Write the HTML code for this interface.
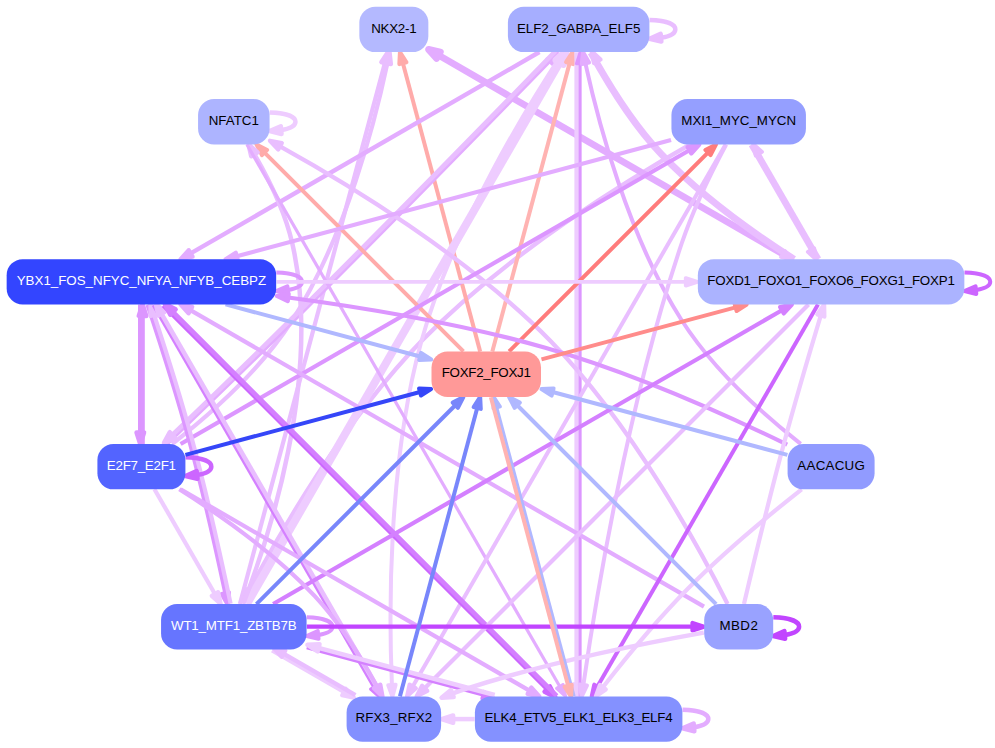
<!DOCTYPE html>
<html><head><meta charset="utf-8"><title>network</title>
<style>
html,body{margin:0;padding:0;background:#fff;}
svg{display:block;}
svg text{font-family:"Liberation Sans",sans-serif;font-size:13.33px;text-anchor:middle;}
svg polygon{stroke-linejoin:round;}
</style></head><body>
<svg width="995" height="748" viewBox="0 0 995 748">
<rect width="995" height="748" fill="#fff"/>
<g id="edges">
<path d="M695.49,141.42 C631.44,177.56 507.27,253.22 421.75,340.74 C344.21,420.11 278.54,535.18 249.02,590.95" fill="none" stroke="#e9beff" stroke-width="4.4"/>
<polygon points="245.74,589.23 243.68,601.13 252.3,592.67" fill="#e9beff" stroke="#e9beff" stroke-width="4.4"/>
<path d="M239.89,603.97 L384.8,63.2" fill="none" stroke="#e9beff" stroke-width="4.2"/>
<polygon points="388.37,64.16 387.77,52.09 381.22,62.24" fill="#e9beff" stroke="#e9beff" stroke-width="4.2"/>
<path d="M172.16,444.02 C205.93,417.71 259.7,371.32 292.31,320.25 C346.02,236.13 375.38,120.12 387.35,63.4" fill="none" stroke="#e9beff" stroke-width="4.2"/>
<polygon points="390.97,64.14 389.66,52.13 383.73,62.66" fill="#e9beff" stroke="#e9beff" stroke-width="4.2"/>
<path d="M480.18,351.62 L402.91,63.23" fill="none" stroke="#ffabaa" stroke-width="4"/>
<polygon points="406.48,62.28 399.93,52.12 399.33,64.19" fill="#ffabaa" stroke="#ffabaa" stroke-width="4"/>
<path d="M791.89,259.22 L438.46,55.17" fill="none" stroke="#e3acff" stroke-width="6.8"/>
<polygon points="440.31,51.97 428.5,49.42 436.61,58.38" fill="#e3acff" stroke="#e3acff" stroke-width="6.8"/>
<path d="M649.53,20.1 C664.12,20.51 675.32,23.62 675.32,29.41 675.32,33.49 669.77,36.24 661.42,37.65" fill="none" stroke="#e9beff" stroke-width="4.5"/>
<polygon points="661.36,41.56 649.53,38.73 660.62,33.82" fill="#e9beff" stroke="#e9beff" stroke-width="4.5"/>
<path d="M539.46,52.03 L190.63,253.43" fill="none" stroke="#e3acff" stroke-width="4.4"/>
<polygon points="188.78,250.23 180.67,259.18 192.48,256.64" fill="#e3acff" stroke="#e3acff" stroke-width="4.4"/>
<path d="M166.16,445.05 C196.01,416.42 248.81,365.54 293.37,321.31 C387.76,227.62 497.66,114.96 549.59,61.52" fill="none" stroke="#e3acff" stroke-width="3.2"/>
<polygon points="552.24,64.1 557.6,53.27 546.94,58.95" fill="#e3acff" stroke="#e3acff" stroke-width="3.2"/>
<path d="M555.48,51.15 C507.65,100.42 390.82,220.35 291.25,319.19 C250.57,359.57 203.02,405.5 172.34,434.97" fill="none" stroke="#e9beff" stroke-width="4.6"/>
<polygon points="169.77,432.3 164.04,442.93 174.9,437.64" fill="#e9beff" stroke="#e9beff" stroke-width="4.6"/>
<path d="M246.92,603.97 L559.8,62.05" fill="none" stroke="#eeccff" stroke-width="8"/>
<polygon points="563.01,63.9 565.55,52.09 556.6,60.2" fill="#eeccff" stroke="#eeccff" stroke-width="8"/>
<path d="M492.33,351.54 L569.61,63.14" fill="none" stroke="#ffb3b2" stroke-width="4"/>
<polygon points="573.18,64.1 572.58,52.03 566.03,62.19" fill="#ffb3b2" stroke="#ffb3b2" stroke-width="4"/>
<path d="M577.14,52.14 L577.14,685.03" fill="none" stroke="#eeccff" stroke-width="5.5"/>
<polygon points="573.44,685.03 577.14,696.53 580.84,685.03" fill="#eeccff" stroke="#eeccff" stroke-width="5.5"/>
<path d="M580.14,696.53 L580.14,63.64" fill="none" stroke="#dc96ff" stroke-width="3"/>
<polygon points="583.84,63.64 580.14,52.14 576.44,63.64" fill="#dc96ff" stroke="#dc96ff" stroke-width="3"/>
<path d="M800.69,443.92 C767.3,417.53 714.11,371.06 681.68,320.25 C627.91,235.98 597.78,120.03 585.4,63.36" fill="none" stroke="#e3acff" stroke-width="4"/>
<polygon points="589.02,62.59 583,52.11 581.78,64.13" fill="#e3acff" stroke="#e3acff" stroke-width="4"/>
<path d="M794.78,258.13 C758.26,234.81 702.46,195.95 662.25,153.26 C635.86,125.23 612.37,87.81 597.27,61.26" fill="none" stroke="#e9beff" stroke-width="4.3"/>
<polygon points="600.5,59.46 591.66,51.22 594.04,63.07" fill="#e9beff" stroke="#e9beff" stroke-width="4.3"/>
<path d="M589.52,53.33 C603.99,79.72 630.18,123.58 660.11,155.37 C696.92,194.45 746.79,230.32 782.98,253.99" fill="none" stroke="#e9beff" stroke-width="3.6"/>
<polygon points="780.97,257.1 792.64,260.24 784.99,250.89" fill="#e9beff" stroke="#e9beff" stroke-width="3.6"/>
<path d="M563.25,52.02 C530.3,101.77 453.35,225.57 421.25,341.74 C387.31,464.53 389.07,617.85 391.92,684.96" fill="none" stroke="#eeccff" stroke-width="4"/>
<polygon points="388.22,685.13 392.45,696.45 395.61,684.79" fill="#eeccff" stroke="#eeccff" stroke-width="4"/>
<path d="M269.69,112.49 C284.28,112.91 295.48,116.02 295.48,121.81 295.48,125.89 289.94,128.64 281.59,130.05" fill="none" stroke="#eeccff" stroke-width="4.5"/>
<polygon points="281.53,133.96 269.69,131.13 280.78,126.22" fill="#eeccff" stroke="#eeccff" stroke-width="4.5"/>
<path d="M463.4,351.4 L264.55,152.56" fill="none" stroke="#ffabaa" stroke-width="4"/>
<polygon points="267.17,149.94 256.42,144.42 261.94,155.17" fill="#ffabaa" stroke="#ffabaa" stroke-width="4"/>
<path d="M727.57,603.91 C701.84,552.73 633.97,426.48 551.25,341.74 C467.46,255.92 345.76,182.64 280.04,146.29" fill="none" stroke="#e9beff" stroke-width="4.3"/>
<polygon points="281.82,143.04 269.96,140.75 278.26,149.53" fill="#e9beff" stroke="#e9beff" stroke-width="4.3"/>
<path d="M243.16,604 C266.47,544.4 323.13,378.63 292.31,243.45 C285.01,211.43 268.17,178 254.42,154.31" fill="none" stroke="#e9beff" stroke-width="4.5"/>
<polygon points="257.6,152.42 248.53,144.43 251.24,156.21" fill="#e9beff" stroke="#e9beff" stroke-width="4.5"/>
<path d="M246.92,144.51 L559.8,686.44" fill="none" stroke="#e3acff" stroke-width="3.2"/>
<polygon points="556.6,688.29 565.55,696.4 563.01,684.59" fill="#e3acff" stroke="#e3acff" stroke-width="3.2"/>
<path d="M671.04,139.93 L236.77,256.3" fill="none" stroke="#e3acff" stroke-width="4.2"/>
<polygon points="235.81,252.72 225.66,259.27 237.73,259.87" fill="#e3acff" stroke="#e3acff" stroke-width="4.2"/>
<path d="M180.6,444.02 L689.39,150.27" fill="none" stroke="#dc96ff" stroke-width="4.2"/>
<polygon points="691.24,153.48 699.35,144.52 687.54,147.07" fill="#dc96ff" stroke="#dc96ff" stroke-width="4.2"/>
<path d="M509.09,351.4 L707.94,152.56" fill="none" stroke="#ff7c7c" stroke-width="4"/>
<polygon points="710.56,155.17 716.07,144.42 705.32,149.94" fill="#ff7c7c" stroke="#ff7c7c" stroke-width="4"/>
<path d="M725.59,144.49 L412.71,686.42" fill="none" stroke="#e9beff" stroke-width="4"/>
<polygon points="409.51,684.57 406.96,696.38 415.92,688.27" fill="#e9beff" stroke="#e9beff" stroke-width="4"/>
<path d="M726.16,144.49 C713.39,168.45 693.77,207.65 681.68,243.45 C627.33,404.34 594.81,605.78 583.35,684.93" fill="none" stroke="#e9beff" stroke-width="4"/>
<polygon points="579.68,684.4 581.72,696.31 587.01,685.45" fill="#e9beff" stroke="#e9beff" stroke-width="4"/>
<path d="M750.51,145.29 L810.99,250.06" fill="none" stroke="#e9beff" stroke-width="3.8"/>
<polygon points="807.79,251.9 816.74,260.01 814.2,248.21" fill="#e9beff" stroke="#e9beff" stroke-width="3.8"/>
<path d="M819.34,258.51 L758.86,153.75" fill="none" stroke="#e9beff" stroke-width="3.8"/>
<polygon points="762.06,151.9 753.11,143.79 755.66,155.6" fill="#e9beff" stroke="#e9beff" stroke-width="3.8"/>
<path d="M276.29,272.53 C290.88,272.95 302.08,276.06 302.08,281.85 302.08,285.93 296.54,288.67 288.19,290.09" fill="none" stroke="#dc96ff" stroke-width="4"/>
<polygon points="288.13,294 276.29,291.17 287.38,286.26" fill="#dc96ff" stroke="#dc96ff" stroke-width="4"/>
<path d="M276.6,281.85 L685.79,281.85" fill="none" stroke="#eeccff" stroke-width="3.9"/>
<polygon points="685.79,285.55 697.29,281.85 685.79,278.15" fill="#eeccff" stroke="#eeccff" stroke-width="3.9"/>
<path d="M787.18,444.6 C732.04,417.8 633.88,373.04 545.25,347.74 C461.63,323.89 365.64,307.78 288.22,297.46" fill="none" stroke="#dc96ff" stroke-width="4.2"/>
<polygon points="288.71,293.79 276.82,295.96 287.74,301.13" fill="#dc96ff" stroke="#dc96ff" stroke-width="4.2"/>
<path d="M140.31,304.4 L140.31,432.48" fill="none" stroke="#dc96ff" stroke-width="4.6"/>
<polygon points="136.61,432.48 140.31,443.98 144.01,432.48" fill="#dc96ff" stroke="#dc96ff" stroke-width="4.6"/>
<path d="M142.51,443.98 L142.51,315.9" fill="none" stroke="#dc96ff" stroke-width="4.6"/>
<polygon points="146.21,315.9 142.51,304.4 138.81,315.9" fill="#dc96ff" stroke="#dc96ff" stroke-width="4.6"/>
<path d="M147.55,304.74 C157.67,335.14 175.83,391.08 188.96,439.53 C203.41,492.83 217.29,555.46 225.31,593.17" fill="none" stroke="#dc96ff" stroke-width="4.2"/>
<polygon points="221.69,593.94 227.69,604.42 228.93,592.41" fill="#dc96ff" stroke="#dc96ff" stroke-width="4.2"/>
<path d="M230.59,603.65 C223.16,568.26 207.86,497.79 191.86,438.76 C180.18,395.64 164.51,346.59 154.07,314.88" fill="none" stroke="#e9beff" stroke-width="4.2"/>
<polygon points="157.58,313.72 150.45,303.97 150.55,316.05" fill="#e9beff" stroke="#e9beff" stroke-width="4.2"/>
<path d="M153.22,305.31 L373.76,687.29" fill="none" stroke="#d480ff" stroke-width="3"/>
<polygon points="370.56,689.14 379.51,697.25 376.97,685.44" fill="#d480ff" stroke="#d480ff" stroke-width="3"/>
<path d="M382.11,695.75 L161.57,313.77" fill="none" stroke="#e9beff" stroke-width="4.5"/>
<polygon points="164.78,311.92 155.82,303.81 158.37,315.62" fill="#e9beff" stroke="#e9beff" stroke-width="4.5"/>
<path d="M163.41,305.27 L547.22,689.07" fill="none" stroke="#cc66ff" stroke-width="4.6"/>
<polygon points="544.61,691.69 555.35,697.2 549.84,686.46" fill="#cc66ff" stroke="#cc66ff" stroke-width="4.6"/>
<path d="M556.77,695.79 L172.96,311.99" fill="none" stroke="#d480ff" stroke-width="4.6"/>
<polygon points="175.58,309.37 164.83,303.86 170.34,314.61" fill="#d480ff" stroke="#d480ff" stroke-width="4.6"/>
<path d="M703.99,606.65 L190.38,310.12" fill="none" stroke="#e3acff" stroke-width="4.2"/>
<polygon points="192.23,306.92 180.42,304.37 188.53,313.33" fill="#e3acff" stroke="#e3acff" stroke-width="4.2"/>
<path d="M225.53,304.39 L420.11,356.53" fill="none" stroke="#b0b8ff" stroke-width="4"/>
<polygon points="419.16,360.1 431.22,359.5 421.07,352.95" fill="#b0b8ff" stroke="#b0b8ff" stroke-width="4"/>
<path d="M964.47,272.53 C979.05,272.95 990.26,276.06 990.26,281.85 990.26,285.93 984.71,288.67 976.36,290.09" fill="none" stroke="#cc66ff" stroke-width="4"/>
<polygon points="976.3,294 964.47,291.17 975.55,286.26" fill="#cc66ff" stroke="#cc66ff" stroke-width="4"/>
<path d="M541.49,359.44 L735.61,307.43" fill="none" stroke="#ff8c8b" stroke-width="4"/>
<polygon points="736.57,311 746.72,304.45 734.66,303.86" fill="#ff8c8b" stroke="#ff8c8b" stroke-width="4"/>
<path d="M273.14,603.97 L781.93,310.22" fill="none" stroke="#d480ff" stroke-width="4.2"/>
<polygon points="783.78,313.43 791.89,304.47 780.08,307.02" fill="#d480ff" stroke="#d480ff" stroke-width="4.2"/>
<path d="M808.49,304.43 L424.69,688.24" fill="none" stroke="#e9beff" stroke-width="4.2"/>
<polygon points="422.08,685.62 416.56,696.37 427.31,690.85" fill="#e9beff" stroke="#e9beff" stroke-width="4.2"/>
<path d="M817.97,304.56 L597.43,686.54" fill="none" stroke="#cc66ff" stroke-width="4"/>
<polygon points="594.23,684.69 591.68,696.5 600.64,688.39" fill="#cc66ff" stroke="#cc66ff" stroke-width="4"/>
<path d="M743.96,604.04 C752.21,569.01 768.82,499.61 784.58,441.14 C796.34,397.54 811.13,347.62 820.83,315.46" fill="none" stroke="#eeccff" stroke-width="4.2"/>
<polygon points="824.37,316.53 824.16,304.45 817.29,314.39" fill="#eeccff" stroke="#eeccff" stroke-width="4.2"/>
<path d="M185.54,457.33 C200.13,457.75 211.33,460.85 211.33,466.65 211.33,470.73 205.79,473.47 197.44,474.89" fill="none" stroke="#cc66ff" stroke-width="4.5"/>
<polygon points="197.38,478.8 185.54,475.97 196.63,471.06" fill="#cc66ff" stroke="#cc66ff" stroke-width="4.5"/>
<path d="M185.43,454.85 L420,392" fill="none" stroke="#3546f8" stroke-width="4"/>
<polygon points="420.96,395.57 431.11,389.02 419.05,388.43" fill="#3546f8" stroke="#3546f8" stroke-width="4"/>
<path d="M154.45,489.23 L214.93,594" fill="none" stroke="#eeccff" stroke-width="4.2"/>
<polygon points="211.73,595.84 220.68,603.95 218.14,592.15" fill="#eeccff" stroke="#eeccff" stroke-width="4.2"/>
<path d="M180.6,489.27 L529.43,690.67" fill="none" stroke="#e3acff" stroke-width="4.2"/>
<polygon points="527.58,693.87 539.39,696.42 531.28,687.47" fill="#e3acff" stroke="#e3acff" stroke-width="4.2"/>
<path d="M179.33,489.3 C216.69,512.85 273.94,552.34 314.81,596.18 C340.36,623.59 362.74,660.29 377.1,686.43" fill="none" stroke="#e3acff" stroke-width="4.2"/>
<polygon points="373.84,688.18 382.55,696.55 380.36,684.67" fill="#e3acff" stroke="#e3acff" stroke-width="4.2"/>
<path d="M787.41,454.94 L552.62,392.03" fill="none" stroke="#b0b8ff" stroke-width="4"/>
<polygon points="553.58,388.46 541.51,389.05 551.66,395.6" fill="#b0b8ff" stroke="#b0b8ff" stroke-width="4"/>
<path d="M801.66,489.3 C771.88,512.78 725.1,551.18 688.28,588.28 C656.73,620.09 624.2,659.96 602.86,687.26" fill="none" stroke="#eeccff" stroke-width="4.2"/>
<polygon points="599.94,685 595.81,696.35 605.78,689.53" fill="#eeccff" stroke="#eeccff" stroke-width="4.2"/>
<path d="M306.69,617.37 C321.28,617.78 332.48,620.89 332.48,626.69 332.48,630.76 326.94,633.51 318.59,634.92" fill="none" stroke="#dc96ff" stroke-width="4"/>
<polygon points="318.53,638.83 306.69,636.01 317.78,631.1" fill="#dc96ff" stroke="#dc96ff" stroke-width="4"/>
<path d="M306.81,626.68 L692.48,626.68" fill="none" stroke="#c145ff" stroke-width="4.2"/>
<polygon points="692.48,630.38 703.98,626.68 692.48,622.98" fill="#c145ff" stroke="#c145ff" stroke-width="4.2"/>
<path d="M256.42,604.07 L455.27,405.23" fill="none" stroke="#7886fb" stroke-width="4"/>
<polygon points="457.89,407.84 463.4,397.09 452.65,402.61" fill="#7886fb" stroke="#7886fb" stroke-width="4"/>
<path d="M272.08,650.51 L343.99,692.03" fill="none" stroke="#eeccff" stroke-width="4.2"/>
<polygon points="342.14,695.24 353.95,697.78 345.84,688.83" fill="#eeccff" stroke="#eeccff" stroke-width="4.2"/>
<path d="M355.45,695.18 L283.54,653.67" fill="none" stroke="#e9beff" stroke-width="4.2"/>
<polygon points="285.39,650.46 273.58,647.92 281.69,656.87" fill="#e9beff" stroke="#e9beff" stroke-width="4.2"/>
<path d="M306.68,647.76 L482.8,694.95" fill="none" stroke="#d480ff" stroke-width="3"/>
<polygon points="481.84,698.53 493.9,697.93 483.75,691.38" fill="#d480ff" stroke="#d480ff" stroke-width="3"/>
<path d="M494.68,695.03 L318.57,647.84" fill="none" stroke="#eeccff" stroke-width="4.5"/>
<polygon points="319.53,644.27 307.46,644.87 317.61,651.42" fill="#eeccff" stroke="#eeccff" stroke-width="4.5"/>
<path d="M773.32,617.37 C787.9,617.78 799.11,620.89 799.11,626.69 799.11,630.76 793.56,633.51 785.21,634.92" fill="none" stroke="#c145ff" stroke-width="4.5"/>
<polygon points="785.15,638.83 773.32,636.01 784.4,631.1" fill="#c145ff" stroke="#c145ff" stroke-width="4.5"/>
<path d="M716.07,604.07 L517.22,405.23" fill="none" stroke="#b0b8ff" stroke-width="4"/>
<polygon points="519.84,402.61 509.09,397.09 514.61,407.84" fill="#b0b8ff" stroke="#b0b8ff" stroke-width="4"/>
<path d="M703.81,632.62 C651.55,641.96 550.13,661.82 466.64,688.58 C461.94,690.09 457.11,691.78 452.3,693.57" fill="none" stroke="#eeccff" stroke-width="4.5"/>
<polygon points="450.97,690.12 441.57,697.71 453.63,697.02" fill="#eeccff" stroke="#eeccff" stroke-width="4.5"/>
<path d="M399.93,696.38 L477.21,407.98" fill="none" stroke="#7886fb" stroke-width="4"/>
<polygon points="480.78,408.94 480.18,396.87 473.63,407.03" fill="#7886fb" stroke="#7886fb" stroke-width="4"/>
<path d="M474.63,719.08 L453.12,719.08" fill="none" stroke="#eeccff" stroke-width="4.5"/>
<polygon points="453.12,715.38 441.62,719.08 453.12,722.78" fill="#eeccff" stroke="#eeccff" stroke-width="4.5"/>
<path d="M682.53,709.77 C697.12,710.18 708.32,713.29 708.32,719.09 708.32,723.16 702.77,725.91 694.42,727.32" fill="none" stroke="#e3acff" stroke-width="4.5"/>
<polygon points="694.36,731.23 682.53,728.4 693.62,723.5" fill="#e3acff" stroke="#e3acff" stroke-width="4.5"/>
<path d="M574.03,696.07 L496.76,407.67" fill="none" stroke="#b0b8ff" stroke-width="3.2"/>
<polygon points="500.33,406.72 493.78,396.57 493.18,408.63" fill="#b0b8ff" stroke="#b0b8ff" stroke-width="3.2"/>
<path d="M490.88,397.34 L568.16,685.74" fill="none" stroke="#ffb3b2" stroke-width="4"/>
<polygon points="564.58,686.7 571.13,696.85 571.73,684.78" fill="#ffb3b2" stroke="#ffb3b2" stroke-width="4"/>
</g>
<g id="nodes">
<rect x="359.35" y="6.71" width="69" height="45.4" rx="16" ry="16" fill="#b4b9ff"/>
<text x="393.73" y="32.61" fill="#000" letter-spacing="-0.25">NKX2-1</text>
<rect x="507.9" y="6.71" width="141.5" height="45.4" rx="16" ry="16" fill="#a6aeff"/>
<text x="578.65" y="32.61" fill="#000">ELF2_GABPA_ELF5</text>
<rect x="198.06" y="99.11" width="71.5" height="45.4" rx="16" ry="16" fill="#adb4ff"/>
<text x="233.81" y="125.01" fill="#000">NFATC1</text>
<rect x="671.44" y="99.11" width="134.5" height="45.4" rx="16" ry="16" fill="#959fff"/>
<text x="738.69" y="125.01" fill="#000">MXI1_MYC_MYCN</text>
<rect x="6.66" y="259.15" width="269.5" height="45.4" rx="16" ry="16" fill="#3345ff"/>
<text x="141.41" y="285.05" fill="#fff">YBX1_FOS_NFYC_NFYA_NFYB_CEBPZ</text>
<rect x="697.84" y="259.15" width="266.5" height="45.4" rx="16" ry="16" fill="#abb3ff"/>
<text x="830.98" y="285.05" fill="#000" letter-spacing="-0.21">FOXD1_FOXO1_FOXO6_FOXG1_FOXP1</text>
<rect x="431.5" y="351.55" width="109.5" height="45.4" rx="16" ry="16" fill="#ff9998"/>
<text x="486.12" y="377.45" fill="#000" letter-spacing="-0.27">FOXF2_FOXJ1</text>
<rect x="97.41" y="443.95" width="88" height="45.4" rx="16" ry="16" fill="#5364ff"/>
<text x="141.29" y="469.85" fill="#fff" letter-spacing="-0.25">E2F7_E2F1</text>
<rect x="787.59" y="443.95" width="87" height="45.4" rx="16" ry="16" fill="#919bff"/>
<text x="831.21" y="469.85" fill="#000" letter-spacing="0.25">AACACUG</text>
<rect x="161.06" y="603.99" width="145.5" height="45.4" rx="16" ry="16" fill="#6675ff"/>
<text x="233.72" y="629.89" fill="#fff" letter-spacing="-0.18">WT1_MTF1_ZBTB7B</text>
<rect x="704.19" y="603.99" width="69" height="45.4" rx="16" ry="16" fill="#99a2ff"/>
<text x="738.89" y="629.89" fill="#000" letter-spacing="0.4">MBD2</text>
<rect x="346.6" y="696.39" width="94.5" height="45.4" rx="16" ry="16" fill="#8390ff"/>
<text x="393.93" y="722.29" fill="#000" letter-spacing="0.15">RFX3_RFX2</text>
<rect x="474.9" y="696.39" width="207.5" height="45.4" rx="16" ry="16" fill="#8491ff"/>
<text x="578.55" y="722.29" fill="#000" letter-spacing="-0.2">ELK4_ETV5_ELK1_ELK3_ELF4</text>
</g>
</svg>
</body></html>
